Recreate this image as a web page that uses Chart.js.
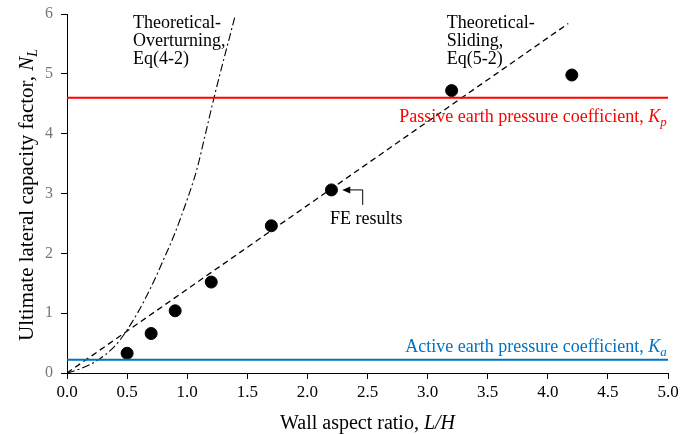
<!DOCTYPE html>
<html>
<head>
<meta charset="utf-8">
<script src="https://cdn.jsdelivr.net/npm/chart.js@4.4.1/dist/chart.umd.min.js"></script>
<style>
  body { margin: 0; background: #fff; }
  #wrap { width: 696px; height: 434px; }
</style>
</head>
<body>
<div id="wrap"><canvas id="chart" width="696" height="434"></canvas></div>
<script>
// FE results (wall aspect ratio vs N_L)
const feRatio = [0.5, 0.7, 0.9, 1.2, 1.7, 2.2, 3.2, 4.2];
const feNL = [0.33, 0.66, 1.04, 1.52, 2.46, 3.06, 4.72, 4.98];

// theoretical sliding, Eq(5-2)
const slideX = [0, 4.17];
const slideY = [0, 5.84];

// theoretical overturning, Eq(4-2)
const overX = [0, 0.11, 0.26, 0.42, 0.58, 0.70, 0.80, 0.90, 1.00, 1.08, 1.15, 1.223, 1.40];
const overY = [0, 0.07, 0.22, 0.50, 0.98, 1.44, 1.88, 2.35, 2.90, 3.40, 3.98, 4.60, 5.98];

// earth pressure coefficients
const Kp = 4.6;
const Ka = 0.22;
const kRange = [0, 5];

const xTicks = [0, 0.5, 1, 1.5, 2, 2.5, 3, 3.5, 4, 4.5, 5];
const yTicks = [0, 1, 2, 3, 4, 5, 6];

const SERIF = '"Liberation Serif", "Times New Roman", serif';
const RED = '#ff0000';
const BLUE = '#0070c0';

const toPts = (xs, ys) => xs.map((x, i) => ({ x: x, y: ys[i] }));

// draws a string made of pieces with different styles
function drawRuns(ctx, runs, x, y, align) {
  let total = 0;
  runs.forEach(r => {
    ctx.font = r.font;
    total += ctx.measureText(r.text).width;
  });
  let cx = align === 'right' ? x - total : align === 'center' ? x - total / 2 : x;
  ctx.textAlign = 'left';
  runs.forEach(r => {
    ctx.font = r.font;
    ctx.fillText(r.text, cx, y + (r.dy || 0));
    cx += ctx.measureText(r.text).width;
  });
}

const notes = {
  id: 'notes',
  afterDraw(chart) {
    const ctx = chart.ctx;
    const xs = chart.scales.x, ys = chart.scales.y;
    const area = chart.chartArea;
    const f18 = '18px ' + SERIF;
    const i18 = 'italic 18px ' + SERIF;
    const i12 = 'italic 13px ' + SERIF;
    ctx.save();
    ctx.textBaseline = 'alphabetic';

    // curve labels
    ctx.fillStyle = '#000';
    ctx.font = f18;
    ctx.textAlign = 'left';
    ['Theoretical-', 'Overturning,', 'Eq(4-2)'].forEach((t, i) => {
      ctx.fillText(t, xs.getPixelForValue(0.55), ys.getPixelForValue(5.77) + i * 18);
    });
    ['Theoretical-', 'Sliding,', 'Eq(5-2)'].forEach((t, i) => {
      ctx.fillText(t, xs.getPixelForValue(3.16), ys.getPixelForValue(5.77) + i * 18);
    });

    // Kp / Ka labels
    ctx.fillStyle = RED;
    drawRuns(ctx, [
      { text: 'Passive earth pressure coefficient, ', font: f18 },
      { text: 'K', font: i18 },
      { text: 'p', font: i12, dy: 4 }
    ], xs.getPixelForValue(4.99), ys.getPixelForValue(Kp) + 24, 'right');
    ctx.fillStyle = BLUE;
    drawRuns(ctx, [
      { text: 'Active earth pressure coefficient, ', font: f18 },
      { text: 'K', font: i18 },
      { text: 'a', font: i12, dy: 4 }
    ], xs.getPixelForValue(4.99), ys.getPixelForValue(Ka) - 8, 'right');

    // FE results pointer
    ctx.fillStyle = '#000';
    ctx.strokeStyle = '#000';
    ctx.lineWidth = 1;
    const tipX = xs.getPixelForValue(2.29), tipY = ys.getPixelForValue(3.06);
    const bendX = xs.getPixelForValue(2.46), endY = ys.getPixelForValue(2.81);
    ctx.beginPath();
    ctx.moveTo(tipX + 6, tipY);
    ctx.lineTo(bendX, tipY);
    ctx.lineTo(bendX, endY);
    ctx.stroke();
    ctx.beginPath();
    ctx.moveTo(tipX, tipY);
    ctx.lineTo(tipX + 8, tipY - 3.5);
    ctx.lineTo(tipX + 8, tipY + 3.5);
    ctx.closePath();
    ctx.fill();
    ctx.font = f18;
    ctx.textAlign = 'center';
    ctx.fillText('FE results', xs.getPixelForValue(2.49), ys.getPixelForValue(2.49));

    // axis titles
    drawRuns(ctx, [
      { text: 'Wall aspect ratio, ', font: '20px ' + SERIF },
      { text: 'L/H', font: 'italic 20px ' + SERIF }
    ], (area.left + area.right) / 2, 429, 'center');
    ctx.save();
    ctx.translate(33, 195);
    ctx.rotate(-Math.PI / 2);
    drawRuns(ctx, [
      { text: 'Ultimate lateral capacity factor, ', font: '21px ' + SERIF },
      { text: 'N', font: 'italic 21px ' + SERIF },
      { text: 'L', font: 'italic 14px ' + SERIF, dy: 4 }
    ], 0, 0, 'center');
    ctx.restore();
    ctx.restore();
  }
};

new Chart(document.getElementById('chart'), {
  type: 'scatter',
  data: {
    datasets: [
      {
        label: 'Passive',
        type: 'line',
        data: toPts(kRange, [Kp, Kp]),
        borderColor: RED,
        borderWidth: 2,
        pointRadius: 0
      },
      {
        label: 'Active',
        type: 'line',
        data: toPts(kRange, [Ka, Ka]),
        borderColor: BLUE,
        borderWidth: 2,
        pointRadius: 0
      },
      {
        label: 'Sliding',
        type: 'line',
        data: toPts(slideX, slideY),
        borderColor: '#000',
        borderWidth: 1.3,
        borderDash: [6, 4],
        pointRadius: 0
      },
      {
        label: 'Overturning',
        type: 'line',
        data: toPts(overX, overY),
        borderColor: '#000',
        borderWidth: 1.1,
        borderDash: [8, 3, 2, 3],
        cubicInterpolationMode: 'monotone',
        pointRadius: 0
      },
      {
        label: 'FE results',
        data: toPts(feRatio, feNL),
        backgroundColor: '#000',
        borderColor: '#000',
        pointRadius: 6,
        pointHoverRadius: 6
      }
    ]
  },
  options: {
    responsive: false,
    animation: false,
    events: [],
    layout: { padding: { top: 14, right: 28, left: 0, bottom: 0 } },
    plugins: {
      legend: { display: false },
      tooltip: { enabled: false }
    },
    scales: {
      x: {
        type: 'linear',
        min: 0,
        max: 5,
        afterBuildTicks: axis => { axis.ticks = xTicks.map(v => ({ value: v })); },
        afterFit: axis => {
          axis.height = 61;
          axis.paddingLeft = 0;
          axis.paddingRight = 0;
        },
        grid: { drawOnChartArea: false, tickLength: 6, color: '#000' },
        border: { color: '#000', width: 1 },
        ticks: {
          color: '#000',
          font: { family: SERIF, size: 17 },
          padding: 3,
          callback: v => v.toFixed(1)
        }
      },
      y: {
        type: 'linear',
        min: 0,
        max: 6,
        afterBuildTicks: axis => { axis.ticks = yTicks.map(v => ({ value: v })); },
        afterFit: axis => {
          axis.width = 67;
          axis.paddingTop = 0;
          axis.paddingBottom = 0;
        },
        grid: { drawOnChartArea: false, tickLength: 6, color: '#000' },
        border: { color: '#000', width: 1 },
        ticks: {
          color: '#777',
          font: { family: SERIF, size: 16 },
          padding: 8,
          callback: v => String(v)
        }
      }
    }
  },
  plugins: [notes]
});
</script>
</body>
</html>
